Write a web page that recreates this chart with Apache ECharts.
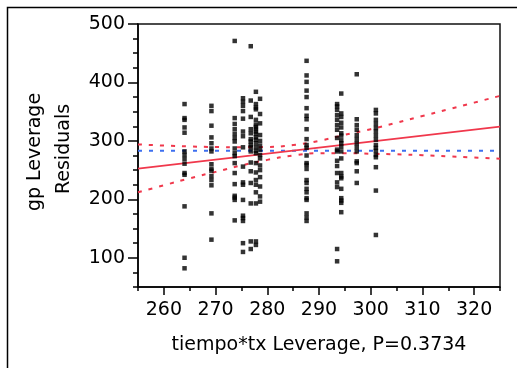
<!DOCTYPE html>
<html>
<head>
<meta charset="utf-8">
<script src="https://cdn.jsdelivr.net/npm/echarts@6/dist/echarts.min.js"></script>
<style>
  html, body { margin: 0; padding: 0; background: #fff; }
  #main { width: 517px; height: 368px; }
</style>
</head>
<body>
<div id="main"></div>
<script>
// leverage x positions of the point columns, and residual values in each column
var colX = [264, 269.2, 273.7, 275.3, 276.8, 277.8, 278.6, 287.6, 293.5, 294.3, 297.3, 301];
var colY = [
  [363, 339, 336, 323, 314, 282, 276, 269, 261, 245, 242, 188, 100, 82],
  [360, 351, 326, 306, 296, 287, 282, 260, 252, 249, 240, 233, 224, 176, 131],
  [471, 339, 329, 320, 312, 305, 299, 287, 279, 274, 262, 245, 226, 206, 203, 199, 164],
  [373, 367, 360, 351, 338, 316, 308, 289, 256, 229, 225, 199, 172, 168, 163, 125, 110],
  [462, 369, 341, 320, 313, 303, 299, 293, 289, 282, 263, 248, 228, 193, 128, 115],
  [384, 363, 357, 354, 336, 328, 324, 320, 316, 312, 306, 302, 296, 289, 283, 279, 262, 246, 233, 225, 212, 193, 128, 122],
  [372, 346, 330, 310, 300, 292, 285, 276, 270, 258, 250, 238, 222, 205, 196],
  [437, 412, 401, 386, 375, 356, 343, 337, 320, 303, 293, 288, 275, 262, 259, 252, 233, 228, 218, 212, 202, 199, 176, 169, 163],
  [363, 359, 353, 344, 336, 327, 319, 305, 285, 282, 266, 257, 245, 229, 221, 115, 94],
  [381, 347, 341, 331, 323, 313, 309, 301, 296, 290, 282, 270, 245, 239, 236, 218, 202, 198, 194, 178],
  [414, 337, 327, 319, 310, 303, 296, 289, 282, 265, 262, 248, 228],
  [353, 347, 336, 329, 322, 316, 309, 302, 293, 288, 283, 276, 272, 255, 215, 139]
];

// fit line, mean line and confidence curves
var fitX = [255, 325];
var fitY = [252.6, 324.4];
var meanY = 283;
var bandX = [255, 260, 265, 270, 275, 280, 285, 290, 295, 300, 305, 310, 315, 320, 325];
var upperY = [294, 292, 290.5, 289.5, 289, 289.5, 293, 300, 310.5, 320, 331, 342.5, 354, 365.5, 377];
var lowerY = [212, 224, 236, 247, 258, 267.5, 275, 279, 279, 278, 277, 275.5, 273.5, 271.5, 269.5];

var xMajor = [260, 270, 280, 290, 300, 310, 320];
var yMajor = [100, 200, 300, 400, 500];

var points = [];
colX.forEach(function (x, i) {
    colY[i].forEach(function (y) { points.push([x, y]); });
});
function pairs(xs, ys) {
    return xs.map(function (x, i) { return [x, ys[i]]; });
}

var myChart = echarts.init(document.getElementById('main'));
var FONT = 'DejaVu Sans';
var red = '#f0384c', blue = '#3d6ff0';

option = {
    animation: false,
    grid: { left: 138, top: 24, right: 17, bottom: 81, show: true, borderColor: '#111', borderWidth: 1.5 },
    xAxis: [{
        type: 'value', min: 255, max: 325, interval: 5,
        axisLine: { lineStyle: { color: '#000', width: 1.5 } },
        axisTick: { show: true, length: 4, lineStyle: { color: '#000', width: 1.5 } },
        axisLabel: { show: false },
        splitLine: { show: false }
    }, {
        type: 'value', min: 255, max: 325, position: 'bottom',
        axisLine: { show: false },
        axisTick: { show: true, customValues: xMajor, length: 8, lineStyle: { color: '#000', width: 1.5 } },
        axisLabel: { customValues: xMajor, color: '#000', fontSize: 19, fontFamily: FONT, margin: 14 },
        splitLine: { show: false }
    }],
    yAxis: [{
        type: 'value', min: 50, max: 500, interval: 25,
        axisLine: { show: true, lineStyle: { color: '#000', width: 1.5 } },
        axisTick: { show: true, length: 5, lineStyle: { color: '#000', width: 1.5 } },
        axisLabel: { show: false },
        splitLine: { show: false }
    }, {
        type: 'value', min: 50, max: 500, position: 'left',
        axisLine: { show: false },
        axisTick: { show: true, customValues: yMajor, length: 10, lineStyle: { color: '#000', width: 1.5 } },
        axisLabel: { customValues: yMajor, color: '#000', fontSize: 19, fontFamily: FONT, margin: 13 },
        splitLine: { show: false }
    }],
    series: [{
        type: 'line', data: pairs(bandX, upperY), smooth: true, symbol: 'none', silent: true, z: 2,
        lineStyle: { color: red, width: 2, type: [4, 7] }
    }, {
        type: 'line', data: pairs(bandX, lowerY), smooth: true, symbol: 'none', silent: true, z: 2,
        lineStyle: { color: red, width: 2, type: [4, 7] }
    }, {
        type: 'line', data: [[255, meanY], [325, meanY]], symbol: 'none', silent: true, z: 2,
        lineStyle: { color: blue, width: 2, type: [4, 7] }
    }, {
        type: 'line', data: pairs(fitX, fitY), symbol: 'none', silent: true, z: 2,
        lineStyle: { color: red, width: 1.8 }
    }, {
        type: 'scatter', data: points, symbol: 'rect', symbolSize: 4.5, z: 3,
        itemStyle: { color: '#000' }
    }],
    graphic: [
        { type: 'rect', shape: { x: 7.5, y: 7.5, width: 530, height: 380 },
          style: { fill: 'none', stroke: '#000', lineWidth: 1.5 } },
        { type: 'text', x: 35, y: 152, rotation: Math.PI / 2,
          style: { text: 'gp Leverage', fontSize: 19, fontFamily: FONT, fill: '#000', align: 'center', verticalAlign: 'middle' } },
        { type: 'text', x: 64, y: 149, rotation: Math.PI / 2,
          style: { text: 'Residuals', fontSize: 19, fontFamily: FONT, fill: '#000', align: 'center', verticalAlign: 'middle' } },
        { type: 'text', x: 319, y: 345,
          style: { text: 'tiempo*tx Leverage, P=0.3734', fontSize: 19, fontFamily: FONT, fill: '#000', align: 'center', verticalAlign: 'middle' } }
    ]
};
myChart.setOption(option);
</script>
</body>
</html>
